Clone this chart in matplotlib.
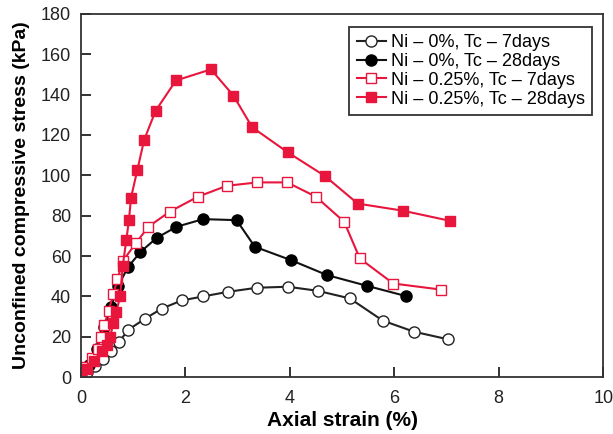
import matplotlib.pyplot as plt

plt.rcParams['font.family'] = ['Liberation Sans', 'DejaVu Sans']

# Ni - 0%, Tc - 7days
x_n0_7 = [0, 0.11, 0.27, 0.43, 0.58, 0.73, 0.91, 1.23, 1.55, 1.93, 2.34, 2.82, 3.37, 3.96, 4.53, 5.15, 5.78, 6.38, 7.02]
y_n0_7 = [0, 2.5, 5.5, 9, 13, 17.5, 23.5, 29, 34, 38, 40, 42.3, 44.3, 44.8, 42.8, 39, 28, 22.5, 18.8]

# Ni - 0%, Tc - 28days
x_n0_28 = [0, 0.15, 0.3, 0.45, 0.58, 0.71, 0.9, 1.14, 1.45, 1.83, 2.34, 2.98, 3.33, 4.02, 4.71, 5.47, 6.22]
y_n0_28 = [0, 6, 14, 25, 35, 45, 54.5, 62, 69, 74.5, 78.3, 77.8, 64.6, 58, 50.6, 45.3, 40.2]

# Ni - 0.25%, Tc - 7days
x_n25_7 = [0, 0.1, 0.22, 0.32, 0.38, 0.45, 0.53, 0.62, 0.7, 0.8, 1.05, 1.29, 1.7, 2.24, 2.79, 3.38,
           3.95, 4.5, 5.04, 5.34, 5.98, 6.89]
y_n25_7 = [0.5, 5, 9.5, 14, 20, 26, 33, 41, 48.5, 57.5, 66.3, 74.5, 82, 89.4, 94.8, 96.5,
           96.5, 89.4, 77, 58.8, 46.4, 43.4]

# Ni - 0.25%, Tc - 28days
x_n25_28 = [0, 0.12, 0.25, 0.4, 0.5, 0.56, 0.62, 0.68, 0.75, 0.8, 0.87, 0.92, 0.96, 1.08, 1.21, 1.43,
            1.82, 2.49, 2.92, 3.28, 3.96, 4.67, 5.3, 6.16, 7.06]
y_n25_28 = [0, 4, 8, 13, 16, 20, 26.6, 32.4, 40, 55, 68, 78, 89, 102.6, 117.5, 132,
            147, 152.5, 139.5, 123.8, 111.4, 99.7, 86, 82.5, 77.5]

labels = ['Ni \u2013 0%, Tc \u2013 7days', 'Ni \u2013 0%, Tc \u2013 28days',
          'Ni \u2013 0.25%, Tc \u2013 7days', 'Ni \u2013 0.25%, Tc \u2013 28days']

red = '#e8163c'

fig = plt.figure(figsize=(6.13, 4.34), dpi=100)
ax = fig.add_axes([0.132, 0.131, 0.852, 0.837])

ax.plot(x_n0_7, y_n0_7, '-o', color='#222222', mfc='white', mec='#222222', ms=8, lw=1.5, label=labels[0])
ax.plot(x_n0_28, y_n0_28, '-o', color='#111111', mfc='black', mec='black', ms=8, lw=1.5, label=labels[1])
ax.plot(x_n25_7, y_n25_7, '-s', color=red, mfc='white', mec=red, ms=7, lw=1.5, label=labels[2])
ax.plot(x_n25_28, y_n25_28, '-s', color=red, mfc=red, mec=red, ms=7, lw=1.5, label=labels[3])

ax.set_xlim(0, 10)
ax.set_ylim(0, 180)
ax.set_xticks([0, 2, 4, 6, 8, 10])
ax.set_yticks(range(0, 181, 20))
ax.tick_params(direction='in', length=7, width=1.3, labelsize=13, colors='#222222')
ax.tick_params(axis='x', pad=9)
ax.tick_params(axis='y', pad=7)
for s in ax.spines.values():
    s.set_linewidth(1.3)
    s.set_color('#333333')

ax.set_xlabel('Axial strain (%)', fontsize=15, fontweight='bold', labelpad=3)
ax.set_ylabel('Unconfined compressive stress (kPa)', fontsize=14, fontweight='bold', labelpad=8)

leg = ax.legend(loc='upper right', bbox_to_anchor=(0.979, 0.964), borderaxespad=0, fontsize=13,
                handlelength=1.6, handletextpad=0.3, labelspacing=0.1, borderpad=0.4,
                fancybox=False, framealpha=1)
leg.get_frame().set_edgecolor('#333333')
leg.get_frame().set_linewidth(1.3)

fig.savefig('out.png', dpi=100)
